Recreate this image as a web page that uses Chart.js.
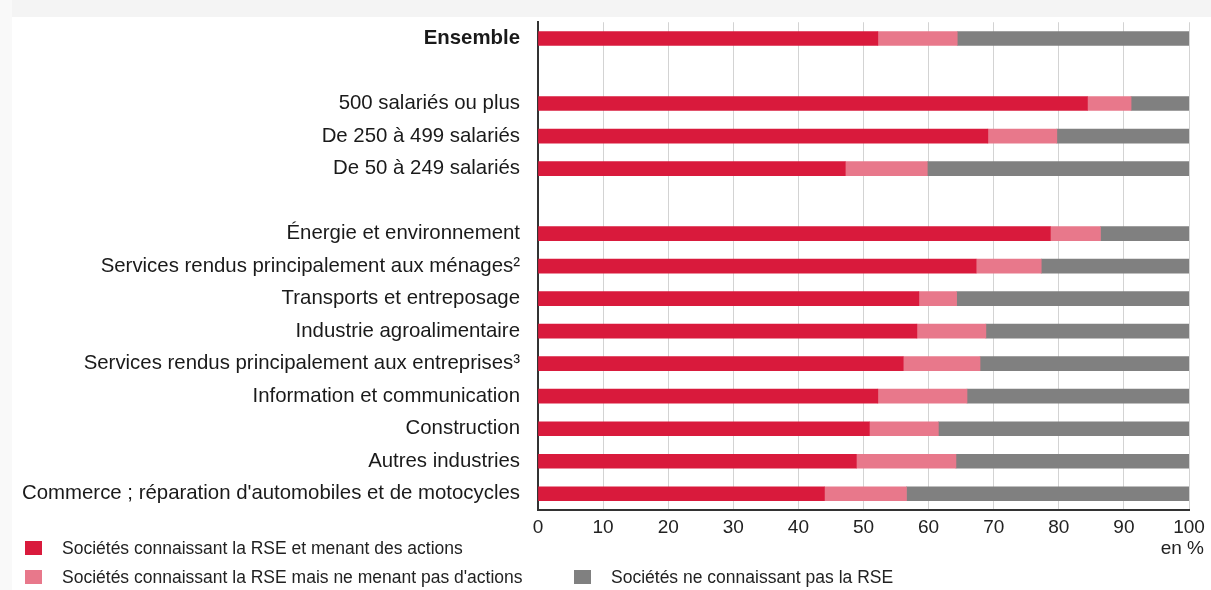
<!DOCTYPE html>
<html>
<head>
<meta charset="utf-8">
<script src="https://cdn.jsdelivr.net/npm/chart.js@4"></script>
<style>
  body { margin: 0; background: #fff; font-family: "Liberation Sans", Arial, sans-serif; }
  #wrap { position: relative; width: 1211px; height: 590px; overflow: hidden; }
  #topband { position: absolute; left: 0; top: 0; width: 1211px; height: 17px; background: #f4f4f4; }
  #leftband { position: absolute; left: 0; top: 0; width: 12px; height: 590px; background: #f9f9f9; }
  canvas { position: absolute; left: 0; top: 0; }
  .unit { position: absolute; right: 7px; top: 537px; font-size: 19px; color: #222; }
  .leg { position: absolute; font-size: 17.5px; color: #222; white-space: nowrap; }
  .leg span { position: absolute; left: 0; top: 3px; width: 17px; height: 14px; }
  .leg div { position: absolute; left: 37px; top: 0; }
</style>
</head>
<body>
<div id="wrap">
  <div id="topband"></div>
  <div id="leftband"></div>
  <canvas id="chart" width="1211" height="590"></canvas>
  <div class="unit">en %</div>
  <div class="leg" style="left:25px; top:538px;"><span style="background:#d91a3c"></span><div>Sociétés connaissant la RSE et menant des actions</div></div>
  <div class="leg" style="left:25px; top:567px;"><span style="background:#e8788b"></span><div>Sociétés connaissant la RSE mais ne menant pas d'actions</div></div>
  <div class="leg" style="left:574px; top:567px;"><span style="background:#808080"></span><div>Sociétés ne connaissant pas la RSE</div></div>
</div>
<script>
// catégories (lignes vides = séparateurs)
const categories = [
    "Ensemble",
    "",
    "500 salariés ou plus",
    "De 250 à 499 salariés",
    "De 50 à 249 salariés",
    " ",
    "Énergie et environnement",
    "Services rendus principalement aux ménages²",
    "Transports et entreposage",
    "Industrie agroalimentaire",
    "Services rendus principalement aux entreprises³",
    "Information et communication",
    "Construction",
    "Autres industries",
    "Commerce ; réparation d'automobiles et de motocycles"
];
const avecActions = [52.2, null, 84.4, 69.1, 47.2, null, 78.7, 67.3, 58.5, 58.2, 56.1, 52.2, 50.9, 48.9, 44.0];
const sansActions = [12.2, null, 6.7, 10.6, 12.6, null, 7.7, 10.0, 5.8, 10.6, 11.8, 13.7, 10.6, 15.3, 12.6];
const neConnaitPas = [35.6, null, 8.9, 20.3, 40.2, null, 13.6, 22.7, 35.7, 31.2, 32.1, 34.1, 38.5, 35.8, 43.4];
const xTicks = [0, 10, 20, 30, 40, 50, 60, 70, 80, 90, 100];

const ctx = document.getElementById("chart");
new Chart(ctx, {
    type: "bar",
    data: {
        labels: categories,
        datasets: [
            { label: "Sociétés connaissant la RSE et menant des actions", data: avecActions, backgroundColor: "#d91a3c" },
            { label: "Sociétés connaissant la RSE mais ne menant pas d'actions", data: sansActions, backgroundColor: "#e8788b" },
            { label: "Sociétés ne connaissant pas la RSE", data: neConnaitPas, backgroundColor: "#808080" }
        ]
    },
    options: {
        indexAxis: "y",
        responsive: false,
        animation: false,
        layout: { padding: { top: 11, right: 22, left: 0, bottom: 0 } },
        datasets: { bar: { barThickness: 14, borderWidth: 0 } },
        plugins: { legend: { display: false }, tooltip: { enabled: false } },
        scales: {
            x: {
                stacked: true,
                min: 0,
                max: 100,
                afterBuildTicks: s => { s.ticks = xTicks.map(v => ({ value: v })); },
                afterFit: s => { s.height = 80; },
                ticks: { font: { family: "Liberation Sans", size: 19 }, color: "#222", padding: 6, maxRotation: 0 },
                grid: { color: "#d3d3d3", lineWidth: 1, drawTicks: false },
                border: { color: "#333", width: 2 }
            },
            y: {
                stacked: true,
                afterFit: s => { s.width = 538; },
                ticks: {
                    autoSkip: false,
                    padding: 10,
                    color: "#1a1a1a",
                    font: c => ({ family: "Liberation Sans", size: 20.4, weight: c.index === 0 ? "bold" : "normal" })
                },
                grid: { display: false },
                border: { color: "#333", width: 2 }
            }
        }
    }
});
</script>
</body>
</html>
